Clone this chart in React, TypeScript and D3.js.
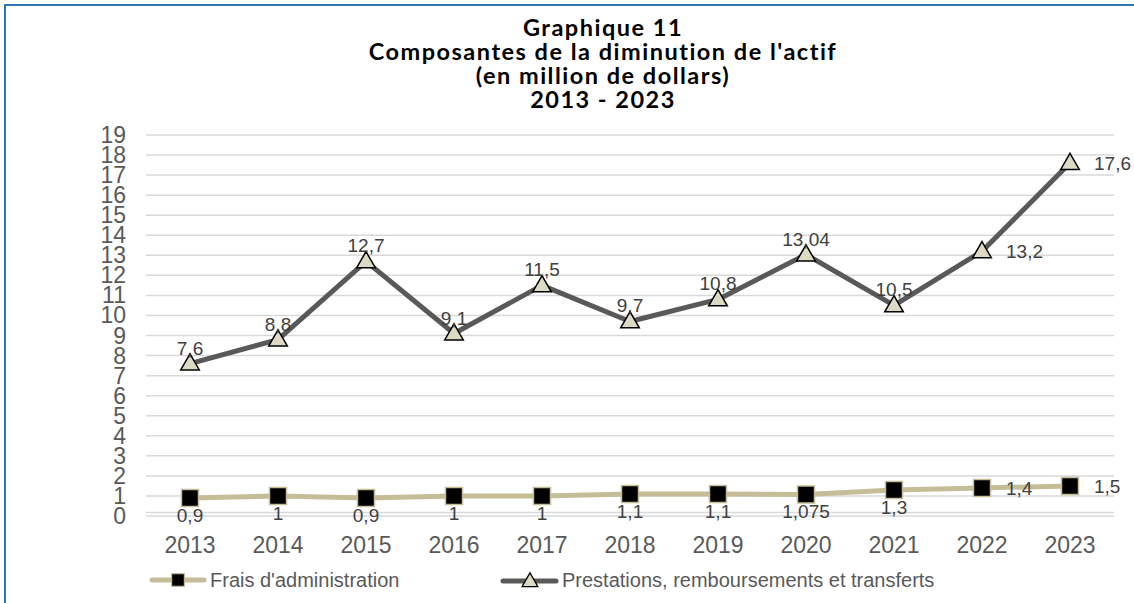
import React from "react";
import * as d3 from "d3";

const years = ["2013","2014","2015","2016","2017","2018","2019","2020","2021","2022","2023"];
const frais = [0.9, 1, 0.9, 1, 1, 1.1, 1.1, 1.075, 1.3, 1.4, 1.5];
const fraisLabels = ["0,9","1","0,9","1","1","1,1","1,1","1,075","1,3","1,4","1,5"];
const fraisPos = ["below","below","below","below","below","below","below","below","below","right","right"];
const prest = [7.6, 8.8, 12.7, 9.1, 11.5, 9.7, 10.8, 13.04, 10.5, 13.2, 17.6];
const prestLabels = ["7,6","8,8","12,7","9,1","11,5","9,7","10,8","13,04","10,5","13,2","17,6"];
const prestPos = ["above","above","above","above","above","above","above","above","above","right","right"];
const yTicks = d3.range(0, 20);
const titleLines = ["Graphique 11", "Composantes de la diminution de l'actif", "(en million de dollars)", "2013 - 2023"];
const seriesNames = ["Frais d'administration", "Prestations, remboursements et transferts"];

const W = 1134, H = 603;
const FONT = "'Liberation Sans', Arial, sans-serif";

export default function App() {
  const x = d3.scaleBand().domain(years).range([146, 1114]);
  const y = d3.scaleLinear().domain([0, 19]).range([516, 135]);
  const cx = (d: string) => (x(d) as number) + x.bandwidth() / 2;
  const line = d3.line<number>().x((_, i) => cx(years[i])).y((v) => y(v));
  const tri = d3.symbol().type(d3.symbolTriangle).size(150)();
  const sq = d3.symbol().type(d3.symbolSquare).size(289)();

  const label = (v: number, i: number, txt: string, pos: string, key: string) => {
    const px = cx(years[i]), py = y(v);
    if (pos === "right") return <text key={key} x={px + 24} y={py + 7} fontSize={19} fill="#404040" fontFamily={FONT}>{txt}</text>;
    if (pos === "below") return <text key={key} x={px} y={py + 24} fontSize={19} fill="#404040" textAnchor="middle" fontFamily={FONT}>{txt}</text>;
    return <text key={key} x={px} y={py - 9} fontSize={19} fill="#404040" textAnchor="middle" fontFamily={FONT}>{txt}</text>;
  };

  return (
    <div style={{ position: "fixed", left: 0, top: 0 }}>
      <svg width={W} height={H} style={{ display: "block", background: "#fff" }}>
        <rect x={5} y={5} width={1140} height={620} fill="#fff" stroke="#2e75b6" strokeWidth={2} />
        {titleLines.map((t, i) => (
          <text key={t} x={603} y={36 + i * 24} textAnchor="middle" fontSize={23.5} letterSpacing={1.5} fontWeight="bold" fontFamily="Lato, 'Open Sans', sans-serif" fill="#000">{t}</text>
        ))}
        {yTicks.map((t) => (
          <g key={t}>
            <line x1={146} x2={1114} y1={y(t)} y2={y(t)} stroke="#d9d9d9" strokeWidth={1.5} />
            <text x={126} y={y(t) + 8} textAnchor="end" fontSize={23} fill="#595959" fontFamily={FONT}>{t}</text>
          </g>
        ))}
        <line x1={146} x2={1114} y1={y(0) - 3.5} y2={y(0) - 3.5} stroke="#d9d9d9" strokeWidth={1.5} />
        {years.map((yr) => (
          <text key={yr} x={cx(yr)} y={553} textAnchor="middle" fontSize={23} fill="#595959" fontFamily={FONT}>{yr}</text>
        ))}
        <path d={line(frais) || ""} fill="none" stroke="#c4bd97" strokeWidth={5} strokeLinejoin="round" />
        <path d={line(prest) || ""} fill="none" stroke="#595959" strokeWidth={5} strokeLinejoin="round" />
        {frais.map((v, i) => (
          <path key={"f" + i} d={sq || ""} transform={`translate(${cx(years[i])},${y(v)})`} fill="#000" stroke="#c4bd97" strokeWidth={1.5} />
        ))}
        {prest.map((v, i) => (
          <path key={"p" + i} d={tri || ""} transform={`translate(${cx(years[i])},${y(v) + 1})`} fill="#ddd9c3" stroke="#000" strokeWidth={1.5} />
        ))}
        {frais.map((v, i) => label(v, i, fraisLabels[i], fraisPos[i], "fl" + i))}
        {prest.map((v, i) => label(v, i, prestLabels[i], prestPos[i], "pl" + i))}
        <g>
          <line x1={152} x2={204} y1={580} y2={580} stroke="#c4bd97" strokeWidth={5} strokeLinecap="round" />
          <path d={sq || ""} transform="translate(178,580) scale(0.75)" fill="#000" stroke="#c4bd97" strokeWidth={1.5} />
          <text x={210} y={587} fontSize={20} fill="#595959" fontFamily={FONT}>{seriesNames[0]}</text>
          <line x1={503} x2={556} y1={581} y2={581} stroke="#595959" strokeWidth={5} strokeLinecap="round" />
          <path d={tri || ""} transform="translate(530,582) scale(0.85)" fill="#ddd9c3" stroke="#000" strokeWidth={1.5} />
          <text x={562} y={587} fontSize={20} fill="#595959" fontFamily={FONT}>{seriesNames[1]}</text>
        </g>
      </svg>
    </div>
  );
}
